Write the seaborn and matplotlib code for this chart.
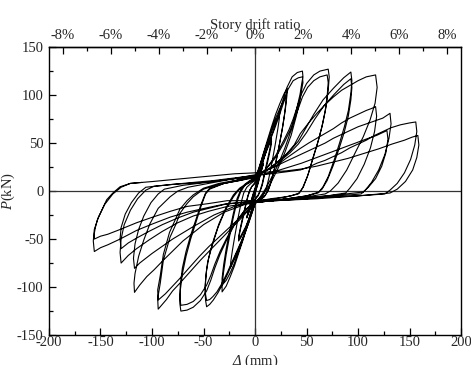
import numpy as np
import pandas as pd
import seaborn as sns
import matplotlib.pyplot as plt

# hysteresis record: (displacement mm, load kN)
lvl_08a = [(0, 0), (2, 8), (4, 16), (6, 23), (8, 29), (7, 25), (5, 17), (3, 9), (1, 2), (0, -2), (-2, -9),
           (-4, -16), (-6, -22), (-8, -28), (-7, -24), (-5, -16), (-3, -8), (-1, -1), (0, 2)]
lvl_08b = [(2, 9), (4, 16), (6, 23), (8, 28), (7, 24), (5, 16), (3, 8), (1, 1), (0, -3), (-2, -10), (-4, -16),
           (-6, -22), (-8, -27), (-7, -23), (-5, -15), (-3, -7), (-1, 0), (0, 3)]
lvl_16a = [(0, 3), (3, 13), (6, 24), (9, 35), (12, 45), (14, 51), (16, 55), (15.5, 50), (14, 42), (11.5, 30),
           (9, 18), (7, 8), (5, 1), (3, -4), (0, -8), (-3, -18), (-6, -29), (-9, -38), (-12, -45), (-14, -49),
           (-16, -52), (-15.5, -47), (-14, -39), (-11.5, -27), (-9, -15), (-7, -6), (-5, 1), (-3, 5), (0, 8)]
lvl_16b = [(3, 16), (6, 26), (9, 36), (12, 44), (14, 49), (16, 52), (15.5, 47), (14, 39), (11.5, 27), (9, 16),
           (7, 6), (5, 0), (3, -5), (0, -9), (-3, -19), (-6, -29), (-9, -37), (-12, -43), (-14, -47), (-16, -50),
           (-15.5, -45), (-14, -37), (-11.5, -25), (-9, -14), (-7, -5), (-5, 1), (-3, 5), (0, 9)]
lvl_24 = [(0, 9), (4, 22), (8, 36), (12, 50), (16, 62), (20, 73), (24, 82), (23.5, 75), (22, 64), (19.5, 48),
          (16.5, 30), (13.5, 14), (11, 3), (8, -4), (4, -8), (0, -11), (-4, -24), (-8, -38), (-12, -50),
          (-16, -61), (-20, -71), (-24, -80), (-23.5, -73), (-22, -62), (-19.5, -46), (-16.5, -28),
          (-13.5, -12), (-11, -2), (-8, 4), (-4, 8), (0, 11)]
lvl_31a = [(0, 11), (4, 24), (8, 39), (12, 53), (16, 67), (20, 80), (24, 91), (28, 101), (31, 107), (31, 100),
           (29.5, 86), (27, 68), (23.5, 48), (20, 29), (16.5, 13), (13.5, 3), (10, -4), (5, -9), (0, -12),
           (-4, -24), (-8, -38), (-12, -52), (-16, -65), (-20, -78), (-24, -89), (-28, -99), (-32, -105),
           (-32, -98), (-30.5, -84), (-28, -66), (-24.5, -46), (-21, -27), (-17.5, -11), (-14, -1), (-10, 6),
           (-5, 10), (0, 13)]
lvl_31b = [(4, 25), (8, 38), (12, 51), (16, 64), (20, 76), (24, 86), (28, 95), (30, 100), (30, 93), (28.5, 79),
           (26, 62), (22.5, 42), (19, 24), (15.5, 9), (12.5, 0), (9, -6), (4, -10), (0, -13), (-4, -25),
           (-8, -38), (-12, -51), (-16, -63), (-20, -75), (-24, -85), (-28, -93), (-32, -98), (-32, -91),
           (-30.5, -77), (-28, -60), (-24.5, -41), (-21, -23), (-17.5, -8), (-14, 1), (-10, 7), (-5, 11), (0, 14)]
lvl_46a = [(0, 14), (5, 22), (11, 43), (15, 55), (19, 67), (23, 80), (26, 91), (31, 108), (36, 119),
           (41, 123.5), (46, 125), (46.5, 119), (45.3, 112), (43.7, 101), (40.5, 86), (35.6, 65), (29, 45),
           (22.6, 28), (16, 14), (11, 4), (7, -3), (3, -9), (0, -13), (-2, -20), (-6, -33), (-11, -47),
           (-16, -60), (-21, -72), (-26, -85), (-31, -96), (-36, -106), (-40.5, -113.5), (-44, -118),
           (-47, -120.5), (-48, -114), (-48.5, -106), (-48, -94), (-47, -82), (-45, -70), (-42, -58),
           (-36, -38), (-29, -20), (-21, -6), (-16, 1), (-10, 6), (0, 12)]
lvl_46b = [(4, 20), (10, 40), (15, 54), (19, 65), (23, 77), (27, 90), (32, 106), (37, 115), (42, 118),
           (46, 119), (46.5, 113), (45, 104), (43, 92), (40, 78), (35, 58), (28.5, 39), (22, 23), (16, 10),
           (11, 1), (7, -5), (3, -10), (0, -13), (-3, -22), (-7, -35), (-12, -49), (-17, -61), (-22, -73),
           (-27, -85), (-32, -96), (-37, -105), (-41, -110), (-44, -113), (-47, -114), (-48, -108),
           (-48.5, -99), (-47.5, -86), (-46, -74), (-43, -61), (-40, -50), (-35, -34), (-28, -17), (-21, -4),
           (-15, 3), (-8, 8), (0, 13)]
lvl_71a = [(0, 13), (10, 22), (20, 37), (28, 53), (33, 64), (37, 75), (41, 88), (45, 101), (50, 112),
           (57, 121), (63, 125), (71, 127), (72, 119), (71, 105), (69, 88), (65.7, 70.5), (61.5, 53),
           (56.6, 36), (51.8, 18.4), (47, 4.5), (43, -2), (35, -5), (20, -8), (0, -11), (-10, -20), (-20, -35),
           (-28, -52), (-34, -66), (-39, -80), (-43, -93), (-47, -104), (-53, -114), (-60, -121), (-66, -124),
           (-72, -125), (-73, -117), (-72.5, -103), (-70.5, -86), (-67, -68), (-62.5, -50), (-57.5, -33),
           (-52.5, -16), (-48, -3), (-44, 2), (-30, 8), (-15, 11), (0, 14)]
lvl_71b = [(10, 22), (20, 35), (28, 50), (34, 63), (38, 74), (42, 86), (46, 98), (51, 108), (57, 115),
           (63, 119), (70, 121), (71, 113), (70, 99), (68, 83), (64.7, 66), (60.5, 49), (55.6, 32), (50.8, 15),
           (46, 3), (42, -3), (30, -6), (15, -8), (0, -11), (-10, -20), (-20, -34), (-28, -50), (-34, -63),
           (-39, -76), (-43, -88), (-47, -98), (-53, -108), (-60, -115), (-66, -118), (-72, -119), (-73, -111),
           (-72.5, -97), (-70.5, -80), (-67, -63), (-62.5, -46), (-57.5, -30), (-52.5, -14), (-48, -2),
           (-44, 3), (-30, 8), (-15, 12), (0, 15)]
lvl_93a = [(0, 15), (12, 22), (24, 32), (34, 42), (42, 52), (49, 65), (57, 80), (66, 95), (76, 107), (86, 118),
           (93, 124), (94, 115), (93, 102), (90.6, 84), (86.7, 67), (82, 50), (76.7, 32), (71, 15), (66, 4.5),
           (62, -1), (50, -5), (25, -9), (0, -12), (-3, -16), (-15, -30), (-25, -41), (-34, -51), (-44, -62),
           (-53, -72), (-63, -84), (-73, -96), (-80, -104), (-86, -113), (-94, -123), (-94.5, -112),
           (-92, -96), (-89, -72), (-82.5, -48), (-77, -35), (-72.8, -23), (-66, -13), (-60, -6), (-50, 2),
           (-35, 7), (-15, 11), (0, 15)]
lvl_93b = [(12, 22), (24, 31), (34, 40), (42, 49), (50, 61), (58, 75), (67, 89), (77, 101), (86, 111),
           (93, 117), (94, 108), (93, 95), (90.5, 78), (86.5, 61), (81.5, 44), (76, 27), (70, 11), (65, 2),
           (61, -2), (50, -5), (25, -9), (0, -12), (-3, -15), (-15, -28), (-25, -38), (-35, -48), (-45, -58),
           (-54, -68), (-64, -80), (-73, -91), (-80, -99), (-87, -107), (-94, -113.5), (-94.5, -103),
           (-92, -88), (-89, -66), (-83, -43), (-77.5, -30), (-73, -19), (-66, -10), (-60, -4), (-50, 3),
           (-35, 8), (-15, 12), (0, 16)]
lvl_117a = [(0, 16), (15, 24), (30, 38), (38, 48), (44, 60), (52, 71), (60, 81), (68, 90), (76, 98), (84, 105),
            (92, 110), (100, 115), (108, 119), (117, 121), (118.5, 108), (116.5, 91.5), (111.6, 74),
            (105, 56.5), (97, 39.5), (89, 22), (80.6, 8.3), (73, 0), (68, -3), (50, -6), (25, -9), (0, -12),
            (-10, -14), (-30, -22), (-50, -35), (-70, -52), (-89, -72), (-98, -82), (-105, -89), (-112, -98),
            (-117, -105.5), (-117.5, -96), (-116.5, -86), (-113, -68), (-108, -51), (-102, -34), (-94, -18),
            (-82.5, -6), (-75, 0), (-65, 4), (-40, 9), (-20, 13), (0, 17)]
lvl_117b = [(10, 21), (20, 26), (30, 34), (44, 44.5), (52, 50), (60, 55), (68, 60), (76, 65), (84, 71),
            (92, 76), (100, 80), (108, 84), (113, 86), (117, 88), (118, 78), (116, 62), (112, 45), (106, 28),
            (99, 13), (92, 3), (88, -2), (70, -5), (40, -8), (0, -11), (-20, -16), (-40, -25), (-60, -37),
            (-80, -50), (-100, -65), (-112, -75), (-117, -80.5), (-118, -70), (-116.5, -55), (-113, -40),
            (-108, -26), (-101, -12), (-94, -3), (-88, 2), (-70, 6), (-40, 10), (0, 16)]
lvl_131a = [(10, 21), (20, 26), (30, 31), (40, 36), (50, 41), (60, 46), (68, 50), (76, 55), (84, 59), (92, 63),
            (100, 67), (108, 70), (116, 73), (124, 76), (131, 81), (132, 70), (130, 55), (126, 38), (120, 22),
            (113, 9), (107, 1), (103, -3), (80, -5), (50, -8), (20, -10), (0, -11), (-15, -14), (-27, -16),
            (-45, -21), (-60, -26), (-75, -33), (-90, -42), (-103, -51), (-115, -60), (-123, -67), (-130, -75),
            (-131, -64), (-130, -50), (-127, -35), (-121, -20), (-114, -8), (-106, 1), (-98, 5), (-70, 8),
            (-40, 11), (-10, 15), (0, 16)]
lvl_131b = [(15, 19), (30, 24), (45, 29), (60, 35), (75, 41), (90, 47), (100, 51), (110, 55), (118, 58),
            (124, 61), (128, 63), (129, 54), (127, 40), (123, 26), (117, 13), (110, 4), (105, -1), (80, -4),
            (50, -7), (20, -9), (0, -10), (-15, -12), (-30, -14), (-45, -18), (-60, -22), (-75, -28), (-90, -35),
            (-103, -42), (-115, -49), (-123, -54), (-130, -60), (-131, -50), (-130, -38), (-126, -24),
            (-120, -12), (-113, -2), (-106, 4), (-80, 7), (-50, 9), (-20, 13), (0, 16)]
lvl_156a = [(15, 18), (30, 20), (44, 22), (52, 25), (60, 29), (68, 32), (76, 36), (84, 40), (92, 45), (100, 49),
            (108, 53), (116, 58), (124, 62), (132, 66), (141, 69), (150, 71), (156, 72), (157, 62), (155, 48),
            (151, 33), (145, 19), (138, 8), (131, 1), (126, -3), (100, -5), (60, -8), (20, -10), (0, -11),
            (-12, -12), (-27, -13), (-45, -17), (-66, -22), (-82, -27), (-99, -34), (-115, -41), (-131, -50),
            (-143, -56), (-150, -59), (-156, -63), (-157, -52), (-156, -40), (-152, -27), (-146, -14),
            (-138, -3), (-130, 4), (-121, 8), (-99, 10), (-80, 12), (-60, 14), (-40, 16), (-20, 18), (0, 19)]
lvl_156b = [(15, 20), (30, 21), (45, 23), (60, 26), (75, 30), (90, 34), (105, 39), (120, 44), (133, 49),
            (145, 53), (152, 56), (158, 58), (159, 48), (157, 35), (153, 22), (146, 10), (138, 2), (131, -2),
            (100, -5), (60, -7), (20, -9), (0, -10), (-12, -10), (-27, -10), (-45, -13), (-66, -16), (-82, -21),
            (-99, -27), (-115, -33), (-131, -40), (-143, -45), (-150, -47), (-156, -50), (-156, -44),
            (-155, -38), (-153, -30), (-150, -23), (-147, -16), (-144, -9), (-138, -2), (-131, 4.5), (-121, 8),
            (-110, 9)]

cycles = [lvl_08a, lvl_08b, lvl_16a, lvl_16b, lvl_24, lvl_31a, lvl_31b, lvl_46a, lvl_46b, lvl_71a, lvl_71b,
          lvl_93a, lvl_93b, lvl_117a, lvl_117b, lvl_131a, lvl_131b, lvl_156a, lvl_156b]

story_height = 2330  # mm per 100 % drift

x_ticks = [-200, -150, -100, -50, 0, 50, 100, 150, 200]
y_ticks = [-150, -100, -50, 0, 50, 100, 150]
drift_ticks = [-8, -6, -4, -2, 0, 2, 4, 6, 8]

pts = [pt for c in cycles for pt in c]
df = pd.DataFrame(pts, columns=["disp", "load"])

sns.set_style("ticks")
plt.rcParams["font.family"] = ["Liberation Serif", "DejaVu Serif"]
plt.rcParams["axes.unicode_minus"] = False
plt.rcParams["mathtext.fontset"] = "custom"
plt.rcParams["mathtext.rm"] = "Liberation Serif:italic"
plt.rcParams["mathtext.it"] = "Liberation Serif:italic"
fs = 10.5

fig = plt.figure(figsize=(4.71, 3.65), dpi=100)
ax = fig.add_axes([0.104, 0.082, 0.875, 0.789])

ax.axhline(0, color="#333333", lw=0.9, zorder=1)
ax.axvline(0, color="#333333", lw=0.9, zorder=1)
sns.lineplot(data=df, x="disp", y="load", sort=False, estimator=None, color="black", lw=0.8, ax=ax, zorder=2)

ax.set_xlim(-200, 200)
ax.set_ylim(-150, 150)
ax.set_xticks(x_ticks)
ax.set_yticks(y_ticks)
ax.set_xticks(np.arange(-175, 200, 50), minor=True)
ax.set_yticks(np.arange(-125, 150, 50), minor=True)
ax.tick_params(axis="both", which="both", direction="in", top=False, right=False, labelsize=fs, color="black")
ax.tick_params(axis="both", which="major", length=5, width=0.9)
ax.tick_params(axis="both", which="minor", length=3, width=0.9)
ax.tick_params(axis="x", which="major", pad=1)
ax.tick_params(axis="y", which="major", pad=4)
for s in ax.spines.values():
    s.set_linewidth(1.0)
    s.set_color("black")

ax.set_xlabel(r"$\Delta$ (mm)", fontsize=fs)
ax.set_ylabel(r"$P$(kN)", fontsize=fs)
ax.xaxis.set_label_coords(0.5, -0.062)
ax.yaxis.set_label_coords(-0.078, 0.5)

sec = ax.secondary_xaxis("top", functions=(lambda v: v / story_height * 100, lambda v: v * story_height / 100))
sec.set_xticks(drift_ticks)
sec.set_xticklabels([f"{v}%" for v in drift_ticks])
sec.set_xticks(np.arange(-7, 9, 2), minor=True)
sec.tick_params(axis="x", which="both", direction="in", labelsize=fs, color="black")
sec.tick_params(axis="x", which="major", length=5, width=0.9, pad=4)
sec.tick_params(axis="x", which="minor", length=3, width=0.9)
sec.spines["top"].set_linewidth(1.0)
sec.set_xlabel("Story drift ratio", fontsize=fs, labelpad=0)

fig.savefig("out.png", dpi=100)
